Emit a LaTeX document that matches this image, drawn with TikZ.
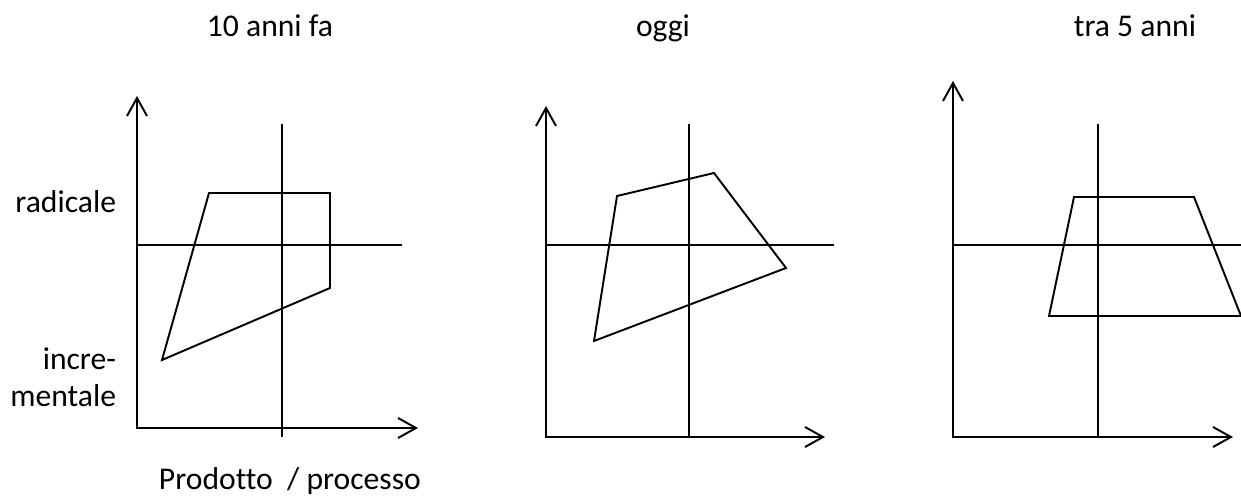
\documentclass[tikz,border=0pt]{standalone}
\usepackage{fontspec}
\setmainfont[Ligatures=NoCommon]{Carlito}
\usetikzlibrary{positioning,arrows.meta}

\begin{document}
\begin{tikzpicture}[x=0.02cm, y=-0.02cm, line width=1.1pt,
    every node/.style={font=\fontsize{18}{21.6}\selectfont, inner sep=0pt},
    axis/.style={{Straight Barb[length=0.36cm, width=0.4cm]}-{Straight Barb[length=0.36cm, width=0.4cm]}},
    zone/.style={line join=miter}]
  \useasboundingbox (0,0) rectangle (1241,496);
  \clip (0,0) rectangle (1241,496);

  % titles
  \node[anchor=base] (past) at (270,37) {10 anni fa};
  \node[anchor=base] (now) at (663,37) {oggi};
  \node[anchor=base] (future) at (1135,37) {tra 5 anni};

  % axis labels
  \node[anchor=base east] (radical) at (117,213) {radicale};
  \node[anchor=base east, align=right] (increm) at (117,407) {incre-\\mentale};
  \node[anchor=base west] (prodproc) at (158,489) {Prodotto~~/ processo};

  % 10 anni fa
  \draw[axis] (137,96) -- (137,428) -- (418,428);
  \draw (282,124) -- (282,437);
  \draw (137,245) -- (402,245);
  \draw[zone] (209,193) -- (330,193) -- (330,288) -- (162,360) -- cycle;

  % oggi
  \draw[axis] (546,106) -- (546,437) -- (825,437);
  \draw (689,124) -- (689,437);
  \draw (546,245) -- (834,245);
  \draw[zone] (617,196) -- (714,173) -- (786,268) -- (594,341) -- cycle;

  % tra 5 anni
  \draw[axis] (953,81) -- (953,437) -- (1233,437);
  \draw (1098,124) -- (1098,437);
  \draw (953,245) -- (1250,245);
  \draw[zone] (1074,197) -- (1194,197) -- (1241,316) -- (1049,316) -- cycle;
\end{tikzpicture}
\end{document}
